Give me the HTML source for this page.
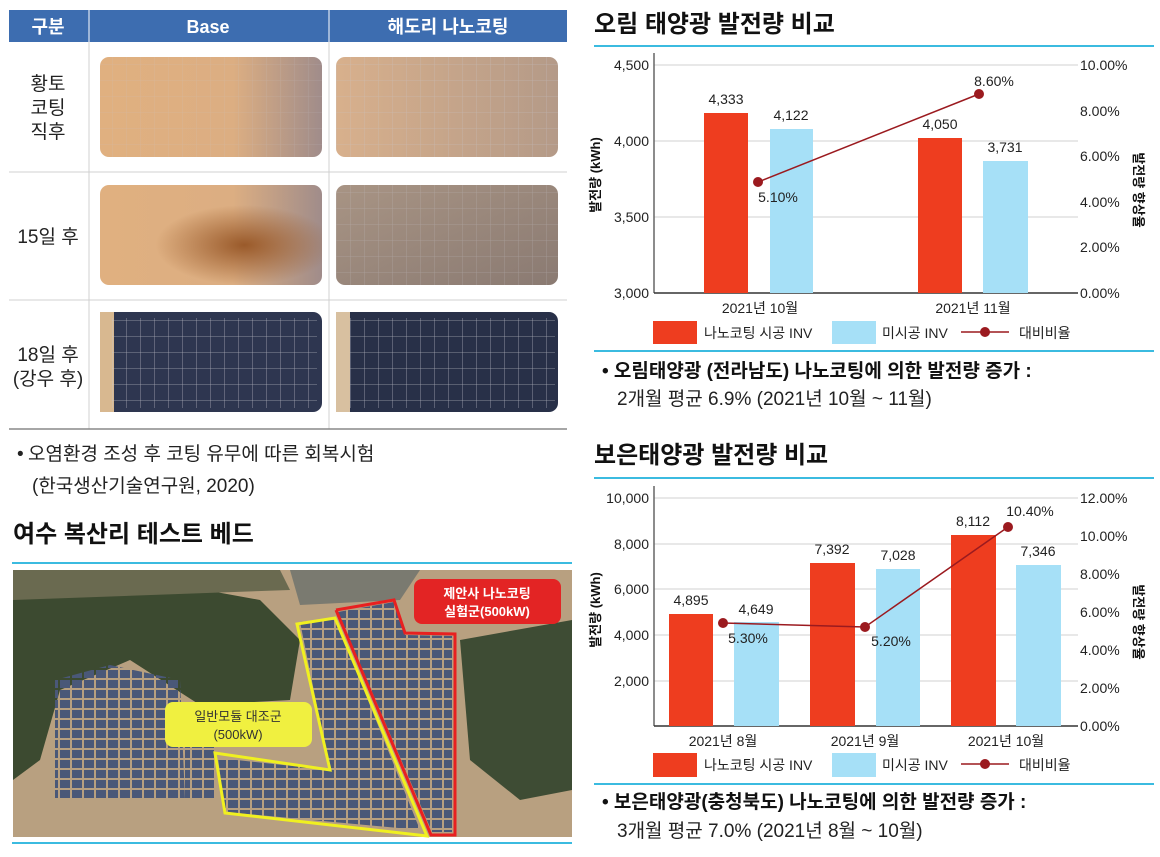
<!DOCTYPE html>
<html><head><meta charset="utf-8"><style>
html,body{margin:0;padding:0;background:#fff}
svg{display:block;font-family:"Liberation Sans","Noto Sans CJK KR",sans-serif}
</style></head><body>
<svg width="1160" height="857" viewBox="0 0 1160 857" xmlns="http://www.w3.org/2000/svg">
<defs>
<linearGradient id="tan1" x1="0" y1="0" x2="1" y2="0"><stop offset="0" stop-color="#e0b080"/><stop offset="0.6" stop-color="#dcae82"/><stop offset="1" stop-color="#a08c8a"/></linearGradient>
<linearGradient id="tan2" x1="0" y1="0" x2="1" y2="0"><stop offset="0" stop-color="#d8b08c"/><stop offset="1" stop-color="#b49a88"/></linearGradient>
<radialGradient id="rust" cx="0.65" cy="0.6" r="0.4"><stop offset="0" stop-color="#9a5a2a"/><stop offset="1" stop-color="#9a5a2a" stop-opacity="0"/></radialGradient>
<linearGradient id="gray1" x1="0" y1="0" x2="1" y2="1"><stop offset="0" stop-color="#a89484"/><stop offset="1" stop-color="#8a7a72"/></linearGradient>
<pattern id="grid" width="14" height="16" patternUnits="userSpaceOnUse"><rect width="14" height="16" fill="none"/><path d="M0 0H14M0 0V16" stroke="#c8c8d0" stroke-width="0.8" fill="none"/></pattern>
<pattern id="pan" width="12" height="10" patternUnits="userSpaceOnUse"><rect width="10" height="8" fill="#4a5878"/></pattern>
</defs>

<!-- TABLE -->
<rect x="9" y="10" width="558" height="32" fill="#3d6db0"/>
<line x1="89" y1="10" x2="89" y2="429" stroke="#d0d0d0"/>
<line x1="329" y1="10" x2="329" y2="429" stroke="#d0d0d0"/>
<line x1="89" y1="10" x2="89" y2="42" stroke="#fff"/>
<line x1="329" y1="10" x2="329" y2="42" stroke="#fff"/>
<line x1="9" y1="172" x2="567" y2="172" stroke="#d0d0d0"/>
<line x1="9" y1="300" x2="567" y2="300" stroke="#d0d0d0"/>
<line x1="9" y1="429" x2="567" y2="429" stroke="#888" stroke-width="1.5"/>
<g fill="#fff" font-size="18" font-weight="bold" text-anchor="middle">
<text x="48" y="33">구분</text><text x="208" y="33">Base</text><text x="448" y="33">해도리 나노코팅</text></g>
<g fill="#222" font-size="19" text-anchor="middle">
<text x="48" y="90">황토</text><text x="48" y="114">코팅</text><text x="48" y="138">직후</text>
<text x="48" y="243">15일 후</text>
<text x="48" y="361">18일 후</text><text x="48" y="385">(강우 후)</text></g>
<!-- photos -->
<rect x="100" y="57" width="222" height="100" rx="9" fill="url(#tan1)"/>
<rect x="100" y="57" width="222" height="100" rx="9" fill="url(#grid)" opacity="0.3"/>
<rect x="336" y="57" width="222" height="100" rx="9" fill="url(#tan2)"/>
<rect x="336" y="57" width="222" height="100" rx="9" fill="url(#grid)" opacity="0.5"/>
<rect x="100" y="185" width="222" height="100" rx="9" fill="url(#tan1)"/>
<rect x="100" y="185" width="222" height="100" rx="9" fill="url(#rust)"/>
<rect x="336" y="185" width="222" height="100" rx="9" fill="url(#gray1)"/>
<rect x="336" y="185" width="222" height="100" rx="9" fill="url(#grid)" opacity="0.4"/>
<rect x="100" y="312" width="222" height="100" rx="9" fill="#2e3650"/>
<rect x="100" y="312" width="14" height="100" fill="#d8b890"/>
<rect x="112" y="318" width="205" height="90" fill="url(#grid)" opacity="0.8"/>
<rect x="336" y="312" width="222" height="100" rx="9" fill="#283048"/>
<rect x="336" y="312" width="14" height="100" fill="#d8c0a0"/>
<rect x="350" y="318" width="205" height="90" fill="url(#grid)" opacity="0.8"/>

<g fill="#222" font-size="19">
<text x="17" y="460">•</text><text x="28" y="460">오염환경 조성 후 코팅 유무에 따른 회복시험</text>
<text x="32" y="492">(한국생산기술연구원, 2020)</text></g>
<text x="13" y="542" font-size="24" font-weight="bold" fill="#111">여수 복산리 테스트 베드</text>
<line x1="12" y1="563" x2="572" y2="563" stroke="#3bbbe0" stroke-width="2"/>
<line x1="12" y1="843" x2="572" y2="843" stroke="#3bbbe0" stroke-width="2"/>
<!-- aerial -->
<rect x="13" y="570" width="559" height="267" fill="#b8a080"/>
<path d="M13 590 L150 580 L260 600 L300 640 L290 700 L200 705 L130 660 L60 690 L40 760 L13 780Z" fill="#3c4a30"/>
<path d="M460 640 L572 620 L572 790 L520 800 L470 760Z" fill="#3e4c34"/>
<path d="M13 570 H280 L290 590 L13 600Z" fill="#6a6a50"/>
<path d="M290 570 L420 570 L400 600 L300 605Z" fill="#7a7a70"/>
<path d="M55 680 L110 665 L180 680 L185 800 L55 800Z" fill="url(#pan)"/>
<path d="M185 710 L215 720 L215 800 L185 800Z" fill="url(#pan)"/>
<path d="M300 622 L335 618 L420 830 L225 812 L218 758 L330 770Z" fill="url(#pan)"/>
<path d="M338 612 L394 602 L405 635 L452 636 L452 832 L432 832Z" fill="url(#pan)"/>
<polygon points="297,624 335,618 427,836 225,813 215,753 330,770" fill="none" stroke="#f0f020" stroke-width="3"/>
<polyline points="336,610 394,600 405,633 455,634 455,835 431,835 336,610" fill="none" stroke="#e82020" stroke-width="3"/>
<rect x="414" y="579" width="147" height="45" rx="8" fill="#e32424"/>
<text x="487" y="598" font-size="13" fill="#fff" text-anchor="middle" font-weight="bold">제안사 나노코팅</text>
<text x="487" y="616" font-size="13" fill="#fff" text-anchor="middle" font-weight="bold">실험군(500kW)</text>
<rect x="165" y="702" width="147" height="45" rx="8" fill="#f0f040"/>
<text x="238" y="721" font-size="13" fill="#333" text-anchor="middle">일반모듈 대조군</text>
<text x="238" y="739" font-size="13" fill="#333" text-anchor="middle">(500kW)</text>

<!-- CHART 1 -->
<text x="594" y="32" font-size="24" font-weight="bold" fill="#111">오림 태양광 발전량 비교</text>
<line x1="594" y1="46" x2="1154" y2="46" stroke="#3bbbe0" stroke-width="2"/>
<g stroke="#e0e0e0" stroke-width="1.5">
<line x1="654" y1="65" x2="1078" y2="65"/><line x1="654" y1="141" x2="1078" y2="141"/><line x1="654" y1="217" x2="1078" y2="217"/></g>
<line x1="654" y1="53" x2="654" y2="293" stroke="#666" stroke-width="1.5"/>
<line x1="654" y1="293" x2="1078" y2="293" stroke="#333" stroke-width="1.5"/>
<g font-size="14" fill="#222" text-anchor="end">
<text x="649" y="70">4,500</text><text x="649" y="146">4,000</text><text x="649" y="222">3,500</text><text x="649" y="298">3,000</text></g>
<g font-size="14" fill="#222">
<text x="1080" y="70">10.00%</text><text x="1080" y="116">8.00%</text><text x="1080" y="161">6.00%</text><text x="1080" y="207">4.00%</text><text x="1080" y="252">2.00%</text><text x="1080" y="298">0.00%</text></g>
<text transform="translate(600,175) rotate(-90)" font-size="13" font-weight="bold" text-anchor="middle" fill="#111">발전량 (kWh)</text>
<text transform="translate(1134,190) rotate(90)" font-size="13" font-weight="bold" text-anchor="middle" fill="#111">발전량 향상율</text>
<rect x="704" y="113" width="44" height="180" fill="#ee3d1f"/>
<rect x="770" y="129" width="43" height="164" fill="#a6e0f7"/>
<rect x="918" y="138" width="44" height="155" fill="#ee3d1f"/>
<rect x="983" y="161" width="45" height="132" fill="#a6e0f7"/>
<g font-size="14" fill="#222" text-anchor="middle">
<text x="726" y="104">4,333</text><text x="791" y="120">4,122</text><text x="940" y="129">4,050</text><text x="1005" y="152">3,731</text>
<text x="778" y="202">5.10%</text><text x="994" y="86">8.60%</text>
<text x="760" y="313">2021년 10월</text><text x="973" y="313">2021년 11월</text></g>
<line x1="758" y1="182" x2="979" y2="94" stroke="#9b1a1f" stroke-width="1.5"/>
<circle cx="758" cy="182" r="5" fill="#9b1a1f"/><circle cx="979" cy="94" r="5" fill="#9b1a1f"/>
<rect x="653" y="321" width="44" height="23" fill="#ee3d1f"/>
<rect x="832" y="321" width="44" height="23" fill="#a6e0f7"/>
<line x1="961" y1="332" x2="1009" y2="332" stroke="#9b1a1f" stroke-width="1.5"/><circle cx="985" cy="332" r="5" fill="#9b1a1f"/>
<g font-size="14" fill="#222"><text x="704" y="338">나노코팅 시공 INV</text><text x="882" y="338">미시공 INV</text><text x="1019" y="338">대비비율</text></g>
<line x1="594" y1="351" x2="1154" y2="351" stroke="#3bbbe0" stroke-width="2"/>
<text x="602" y="377" font-size="19" font-weight="bold" fill="#111">• 오림태양광 (전라남도) 나노코팅에 의한 발전량 증가 :</text>
<text x="617" y="405" font-size="19" fill="#222">2개월 평균 6.9% (2021년 10월 ~ 11월)</text>

<!-- CHART 2 -->
<text x="594" y="463" font-size="24" font-weight="bold" fill="#111">보은태양광 발전량 비교</text>
<line x1="594" y1="478" x2="1154" y2="478" stroke="#3bbbe0" stroke-width="2"/>
<g stroke="#e0e0e0" stroke-width="1.5">
<line x1="654" y1="498" x2="1078" y2="498"/><line x1="654" y1="544" x2="1078" y2="544"/><line x1="654" y1="589" x2="1078" y2="589"/><line x1="654" y1="635" x2="1078" y2="635"/><line x1="654" y1="681" x2="1078" y2="681"/></g>
<line x1="654" y1="486" x2="654" y2="726" stroke="#666" stroke-width="1.5"/>
<line x1="654" y1="726" x2="1078" y2="726" stroke="#333" stroke-width="1.5"/>
<g font-size="14" fill="#222" text-anchor="end">
<text x="649" y="503">10,000</text><text x="649" y="549">8,000</text><text x="649" y="594">6,000</text><text x="649" y="640">4,000</text><text x="649" y="686">2,000</text></g>
<g font-size="14" fill="#222">
<text x="1080" y="503">12.00%</text><text x="1080" y="541">10.00%</text><text x="1080" y="579">8.00%</text><text x="1080" y="617">6.00%</text><text x="1080" y="655">4.00%</text><text x="1080" y="693">2.00%</text><text x="1080" y="731">0.00%</text></g>
<text transform="translate(600,610) rotate(-90)" font-size="13" font-weight="bold" text-anchor="middle" fill="#111">발전량 (kWh)</text>
<text transform="translate(1134,622) rotate(90)" font-size="13" font-weight="bold" text-anchor="middle" fill="#111">발전량 향상율</text>
<rect x="669" y="614" width="44" height="112" fill="#ee3d1f"/>
<rect x="734" y="622" width="45" height="104" fill="#a6e0f7"/>
<rect x="810" y="563" width="45" height="163" fill="#ee3d1f"/>
<rect x="876" y="569" width="44" height="157" fill="#a6e0f7"/>
<rect x="951" y="535" width="45" height="191" fill="#ee3d1f"/>
<rect x="1016" y="565" width="45" height="161" fill="#a6e0f7"/>
<g font-size="14" fill="#222" text-anchor="middle">
<text x="691" y="605">4,895</text><text x="756" y="614">4,649</text><text x="832" y="554">7,392</text><text x="898" y="560">7,028</text><text x="973" y="526">8,112</text><text x="1038" y="556">7,346</text>
<text x="748" y="643">5.30%</text><text x="891" y="646">5.20%</text><text x="1030" y="516">10.40%</text>
<text x="723" y="746">2021년 8월</text><text x="865" y="746">2021년 9월</text><text x="1006" y="746">2021년 10월</text></g>
<polyline points="723,623 865,627 1008,527" fill="none" stroke="#9b1a1f" stroke-width="1.5"/>
<circle cx="723" cy="623" r="5" fill="#9b1a1f"/><circle cx="865" cy="627" r="5" fill="#9b1a1f"/><circle cx="1008" cy="527" r="5" fill="#9b1a1f"/>
<rect x="653" y="753" width="44" height="24" fill="#ee3d1f"/>
<rect x="832" y="753" width="44" height="24" fill="#a6e0f7"/>
<line x1="961" y1="764" x2="1009" y2="764" stroke="#9b1a1f" stroke-width="1.5"/><circle cx="985" cy="764" r="5" fill="#9b1a1f"/>
<g font-size="14" fill="#222"><text x="704" y="770">나노코팅 시공 INV</text><text x="882" y="770">미시공 INV</text><text x="1019" y="770">대비비율</text></g>
<line x1="594" y1="784" x2="1154" y2="784" stroke="#3bbbe0" stroke-width="2"/>
<text x="602" y="808" font-size="19" font-weight="bold" fill="#111">• 보은태양광(충청북도) 나노코팅에 의한 발전량 증가 :</text>
<text x="617" y="837" font-size="19" fill="#222">3개월 평균 7.0% (2021년 8월 ~ 10월)</text>
</svg>
</body></html>
